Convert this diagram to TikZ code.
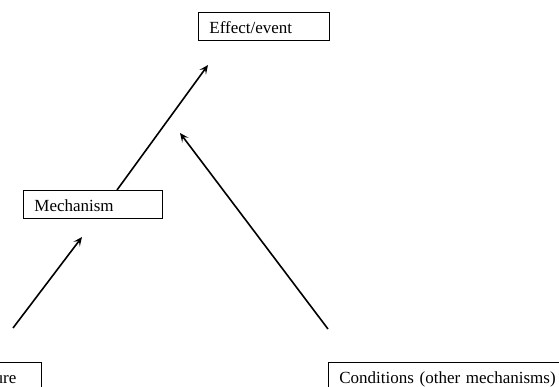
\documentclass[tikz,border=0pt]{standalone}
\usepackage{fontspec}
\setmainfont{Liberation Serif}
\usetikzlibrary{arrows.meta,calc}
\begin{document}
\begin{tikzpicture}[x=1pt,y=-1pt,
  box/.style={draw,line width=0.8pt,minimum height=28pt,inner ysep=0pt,inner xsep=11pt,
    text height=16pt,text depth=2pt,align=left,font=\fontsize{17}{20}\selectfont},
  conn/.style={line width=1.6pt,-{Stealth[length=9pt,width=8pt,inset=4pt]}}]
\useasboundingbox (0,0) rectangle (559,386);
\clip (0,0) rectangle (559,386);
\node[box,anchor=north west,text width=109pt] (effect) at (198,12) {Effect/event};
\node[box,anchor=north west,text width=117pt] (mech) at (23,190) {Mechanism};
\node[box,anchor=north west,text width=250pt] (cond) at (328,362) {Conditions (other mechanisms)};
\node[box,anchor=north east,text width=150pt,align=right,inner xsep=25pt] (expo) at (41.7,362) {ure};
\coordinate (m1) at ($(mech.north west)+(94,0)$);
\coordinate (t1) at (208,65);
\coordinate (s2) at (328,329);
\coordinate (t2) at (180,133);
\coordinate (s3) at (13,328);
\coordinate (t3) at (82,237);
\draw[conn] (m1) -- (t1);
\draw[conn] (s2) -- (t2);
\draw[conn] (s3) -- (t3);
\end{tikzpicture}
\end{document}
